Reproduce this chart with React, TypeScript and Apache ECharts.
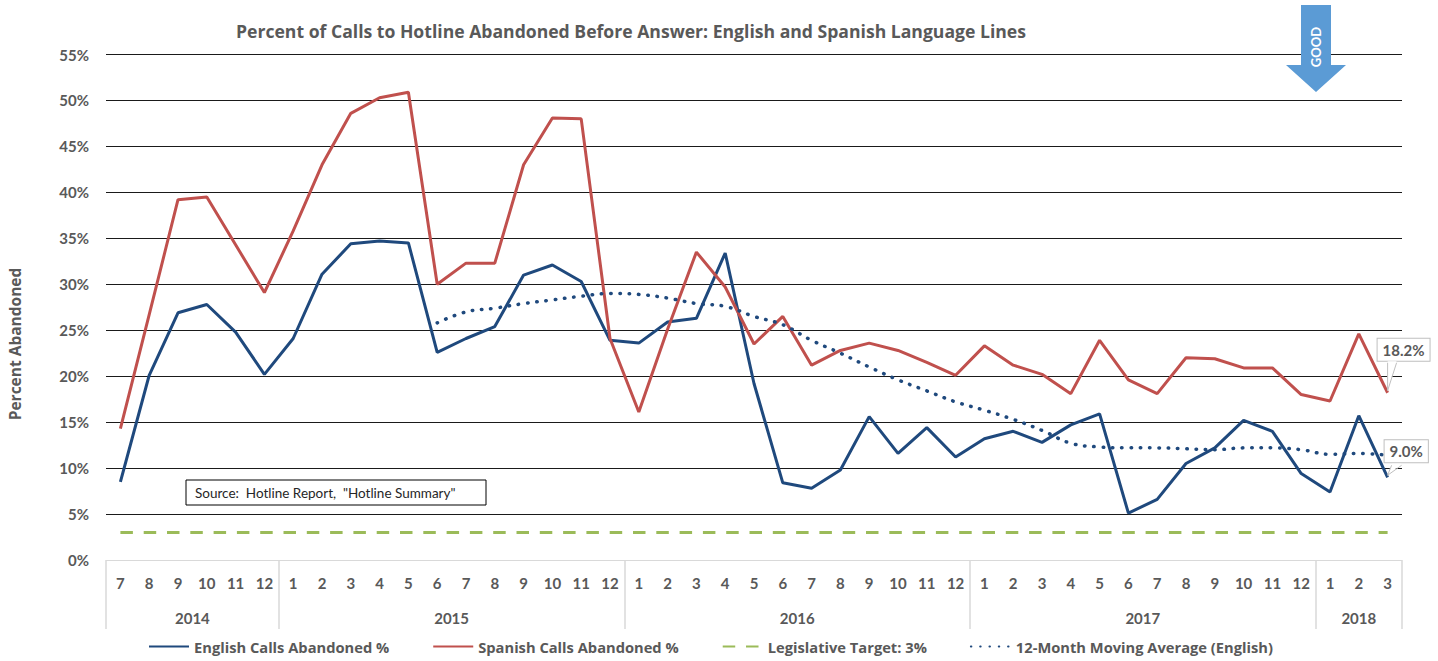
import React, { useEffect, useRef } from "react";
import * as echarts from "echarts";

// ---------- data ----------
const years = ["2014", "2015", "2016", "2017", "2018"];
const monthsByYear = [
  [7, 8, 9, 10, 11, 12],
  [1, 2, 3, 4, 5, 6, 7, 8, 9, 10, 11, 12],
  [1, 2, 3, 4, 5, 6, 7, 8, 9, 10, 11, 12],
  [1, 2, 3, 4, 5, 6, 7, 8, 9, 10, 11, 12],
  [1, 2, 3],
];

const englishAbandoned = [
  8.5, 20.1, 26.9, 27.8, 24.8, 20.2,
  24.1, 31.1, 34.4, 34.7, 34.5, 22.6, 24.1, 25.4, 31.0, 32.1, 30.3, 23.9,
  23.6, 25.9, 26.3, 33.4, 19.2, 8.4, 7.8, 9.8, 15.6, 11.6, 14.4, 11.2,
  13.2, 14.0, 12.8, 14.7, 15.9, 5.1, 6.6, 10.5, 12.2, 15.2, 14.0, 9.4,
  7.4, 15.7, 9.0,
];

const spanishAbandoned = [
  14.3, 26.7, 39.2, 39.5, 34.3, 29.1,
  35.8, 43.0, 48.6, 50.3, 50.9, 30.0, 32.3, 32.3, 43.0, 48.1, 48.0, 24.1,
  16.1, 25.1, 33.5, 29.7, 23.5, 26.5, 21.2, 22.8, 23.6, 22.8, 21.5, 20.1,
  23.3, 21.2, 20.2, 18.1, 23.9, 19.6, 18.1, 22.0, 21.9, 20.9, 20.9, 18.0,
  17.3, 24.6, 18.2,
];

const legislativeTarget = [
  3, 3, 3, 3, 3, 3,
  3, 3, 3, 3, 3, 3, 3, 3, 3, 3, 3, 3,
  3, 3, 3, 3, 3, 3, 3, 3, 3, 3, 3, 3,
  3, 3, 3, 3, 3, 3, 3, 3, 3, 3, 3, 3,
  3, 3, 3,
];

const movingAverage = [
  null, null, null, null, null, null,
  null, null, null, null, null, 25.8, 27.0, 27.4, 27.9, 28.3, 28.7, 29.0,
  28.9, 28.5, 27.9, 27.6, 26.5, 25.6, 23.9, 22.5, 21.0, 19.6, 18.4, 17.2,
  16.3, 15.3, 14.1, 12.7, 12.3, 12.2, 12.2, 12.1, 12.0, 12.2, 12.2, 12.0,
  11.5, 11.6, 11.4,
];

const yTicks = [0, 5, 10, 15, 20, 25, 30, 35, 40, 45, 50, 55];

const seriesNames = [
  "English Calls Abandoned %",
  "Spanish Calls Abandoned %",
  "Legislative Target: 3%",
  "12-Month Moving Average (English)",
];

const titleText =
  "Percent of Calls to Hotline Abandoned Before Answer: English and Spanish Language Lines";
const sourceText = 'Source:  Hotline Report,  "Hotline Summary"';

// ---------- derived ----------
const categories: string[] = [];
monthsByYear.forEach((ms, i) => ms.forEach((m) => categories.push(`${years[i]}-${m}`)));
const yearBounds: number[] = [0];
monthsByYear.forEach((ms) => yearBounds.push(yearBounds[yearBounds.length - 1] + ms.length));
const yearCenters = years.map((_, i) => (yearBounds[i] + yearBounds[i + 1]) / 2);

const FONT = "Lato, 'Open Sans', sans-serif";
const FONT2 = "'Open Sans', Lato, sans-serif";
const GRAY = "#595959";
const BLUE = "#1F497D";
const RED = "#C0504D";
const GREEN = "#9BBB59";

export default function App() {
  const ref = useRef<HTMLDivElement>(null);

  useEffect(() => {
    const chart = echarts.init(ref.current!, null, { renderer: "svg" });

    const endLabel = (dx: number, dy: number) => ({
      show: true,
      formatter: (p: any) => `${Number(p.value).toFixed(1)}%`,
      offset: [dx, dy],
      align: "left",
      backgroundColor: "#fff",
      borderColor: "#BFBFBF",
      borderWidth: 1,
      padding: [4, 5, 3, 5],
      color: GRAY,
      fontFamily: FONT,
      fontWeight: "bold",
      fontSize: 15,
    });

    const option: any = {
      animation: false,
      textStyle: { fontFamily: FONT },
      title: {
        text: titleText,
        left: 231,
        top: 17,
        textStyle: { fontFamily: FONT2, fontSize: 17.6, fontWeight: "bold", color: GRAY },
      },
      grid: { left: 106, right: 36, top: 54.5, bottom: 101, containLabel: false },
      legend: {
        data: seriesNames,
        left: 143,
        top: 634,
        itemWidth: 40,
        itemHeight: 12,
        itemGap: 43,
        itemStyle: { opacity: 0 },
        textStyle: { fontFamily: FONT2, fontSize: 14.7, fontWeight: "bold", color: GRAY },
      },
      xAxis: [
        {
          type: "category",
          data: categories,
          boundaryGap: true,
          axisLine: { show: false },
          axisTick: { show: false },
          axisLabel: {
            interval: 0,
            margin: 15,
            formatter: (v: string) => v.split("-")[1],
            color: GRAY,
            fontFamily: FONT,
            fontWeight: "bold",
            fontSize: 15,
          },
          splitLine: { show: false },
        },
        {
          type: "value",
          position: "bottom",
          min: 0,
          max: categories.length,
          axisLine: { show: false },
          splitLine: { show: false },
          axisTick: {
            show: true,
            customValues: yearBounds,
            length: 69,
            lineStyle: { color: "#D9D9D9", width: 1.5 },
          },
          axisLabel: {
            customValues: yearCenters,
            margin: 50,
            formatter: (v: number) => {
              const k = yearCenters.findIndex((c) => Math.abs(c - v) < 0.01);
              return k >= 0 ? years[k] : "";
            },
            color: GRAY,
            fontFamily: FONT,
            fontWeight: "bold",
            fontSize: 15,
          },
        },
      ],
      yAxis: {
        type: "value",
        min: 0,
        max: 55,
        interval: 5,
        axisLine: { show: false },
        axisTick: { show: false },
        axisLabel: {
          formatter: "{value}%",
          margin: 17,
          color: GRAY,
          fontFamily: FONT,
          fontWeight: "bold",
          fontSize: 15,
        },
        splitLine: {
          show: true,
          lineStyle: {
            color: yTicks.map((t) => (t === 0 ? "#D9D9D9" : "#1a1a1a")),
            width: 1,
          },
        },
      },
      series: [
        {
          name: seriesNames[0],
          type: "line",
          data: englishAbandoned,
          symbol: "none",
          color: BLUE,
          lineStyle: { color: BLUE, width: 3 },
          endLabel: endLabel(-11, -26),
        },
        {
          name: seriesNames[1],
          type: "line",
          data: spanishAbandoned,
          symbol: "none",
          color: RED,
          lineStyle: { color: RED, width: 3 },
          endLabel: endLabel(-18, -43),
        },
        {
          name: seriesNames[2],
          type: "line",
          data: legislativeTarget,
          symbol: "none",
          color: GREEN,
          lineStyle: { color: GREEN, width: 3, type: [12.5, 10.8] },
        },
        {
          name: seriesNames[3],
          type: "line",
          data: movingAverage,
          symbol: "none",
          smooth: 0.4,
          color: BLUE,
          lineStyle: { color: BLUE, width: 3.5, type: [0.5, 8.8], cap: "round" },
        },
      ],
    };

    chart.setOption(option);

    const last = categories.length - 1;
    const pointer = (value: number, bottomOffset: number, baseL: number, baseR: number) => {
      const [px, py] = chart.convertToPixel({ seriesIndex: 0 }, [last, value]) as number[];
      const by = py + bottomOffset;
      return [
        {
          type: "polygon",
          z: 100,
          shape: { points: [[px + baseL, by - 1.5], [px + baseR, by - 1.5], [px, py - 2]] },
          style: { fill: "#fff", stroke: null },
        },
        {
          type: "polyline",
          z: 101,
          shape: { points: [[px + baseL, by], [px, py - 2], [px + baseR, by]] },
          style: { stroke: "#BFBFBF", lineWidth: 1, fill: null },
        },
      ];
    };

    const graphics: any[] = [
      {
        type: "text",
        x: 15,
        y: 344,
        rotation: Math.PI / 2,
        style: {
          text: "Percent Abandoned",
          fill: GRAY,
          font: `bold 15.5px ${FONT2}`,
          align: "center",
          verticalAlign: "middle",
        },
      },
      {
        type: "rect",
        z: 50,
        shape: { x: 186, y: 480, width: 300, height: 25 },
        style: { fill: "#fff", stroke: "#000", lineWidth: 1 },
      },
      {
        type: "text",
        z: 51,
        x: 195,
        y: 493,
        style: {
          text: sourceText,
          fill: "#262626",
          font: `13.5px ${FONT}`,
          align: "left",
          verticalAlign: "middle",
        },
      },
      {
        type: "polygon",
        z: 50,
        shape: {
          points: [
            [1301, 5], [1331, 5], [1331, 65], [1346, 65], [1316, 92], [1286, 65], [1301, 65],
          ],
        },
        style: { fill: "#5B9BD5" },
      },
      {
        type: "text",
        z: 51,
        x: 1316,
        y: 47,
        rotation: Math.PI / 2,
        style: {
          text: "GOOD",
          fill: "#fff",
          font: `bold 13px ${FONT}`,
          align: "center",
          verticalAlign: "middle",
        },
      },
      ...pointer(spanishAbandoned[last], -30, 0, 9),
      ...pointer(englishAbandoned[last], -12, 4, 14),
    ];

    chart.setOption({ graphic: graphics });

    return () => chart.dispose();
  }, []);

  return (
    <div
      ref={ref}
      style={{ position: "absolute", left: 0, top: 0, width: 1438, height: 661, background: "#fff" }}
    />
  );
}
